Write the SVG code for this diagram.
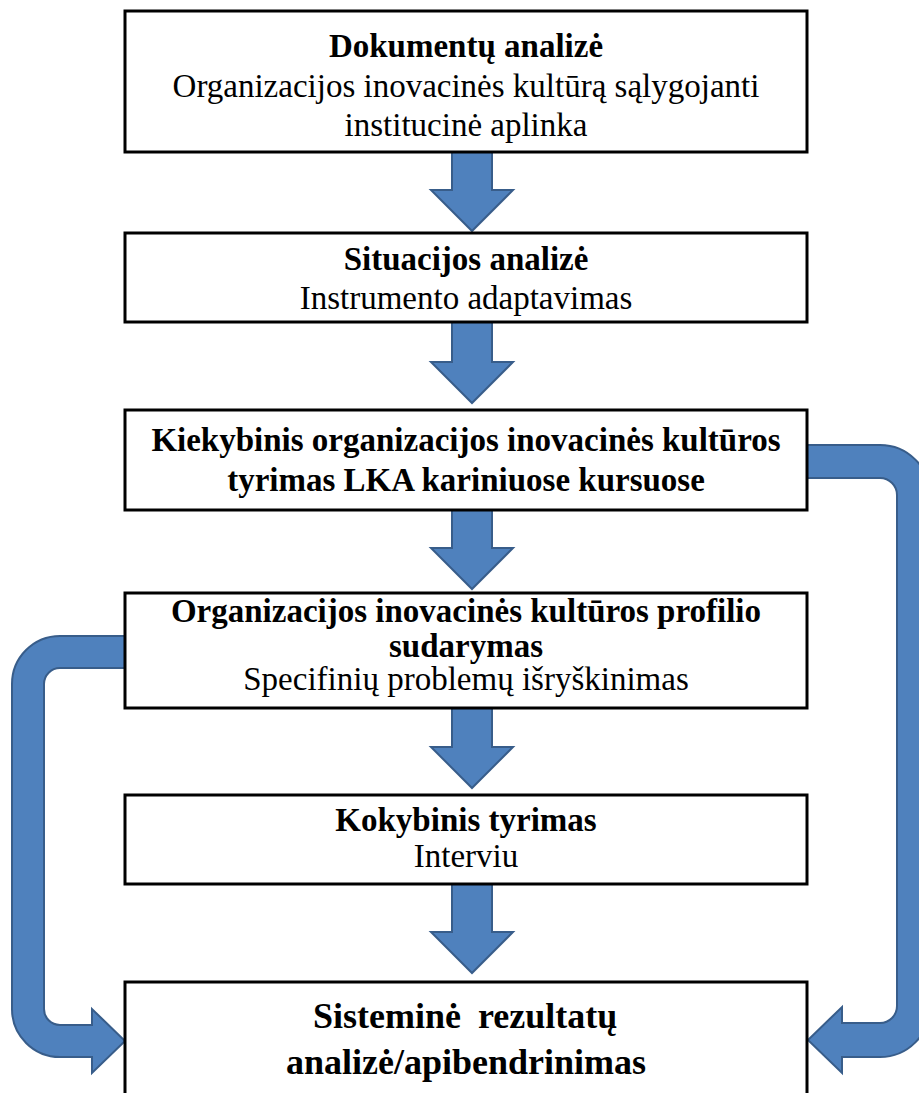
<svg xmlns="http://www.w3.org/2000/svg" width="919" height="1093" viewBox="0 0 919 1093">
<style>
.box{fill:#ffffff;stroke:#000000;stroke-width:3}
.arr{fill:#4F81BD;stroke:#385D8A;stroke-width:2;stroke-linejoin:miter}
text{font-family:"Liberation Serif","Times New Roman",serif;font-size:33px;fill:#000;text-anchor:middle}
.b{font-weight:bold}
.big{font-size:36px;font-weight:bold}
</style>
<rect width="919" height="1093" fill="#ffffff"/>
<g id="connectors">
<path class="arr" d="M452 152 L492 152 L492 190 L513 190 L472 231 L431 190 L452 190 Z"/>
<path class="arr" d="M452 322 L492 322 L492 362 L513 362 L472 403 L431 362 L452 362 Z"/>
<path class="arr" d="M452 510 L492 510 L492 548 L513 548 L472 589 L431 548 L452 548 Z"/>
<path class="arr" d="M452 708 L492 708 L492 747 L513 747 L472 788 L431 747 L452 747 Z"/>
<path class="arr" d="M452 884 L492 884 L492 932 L513 932 L472 973 L431 932 L452 932 Z"/>
<path class="arr" d="M807 445 L880 445 A50 50 0 0 1 930 495 L930 1007 A50 50 0 0 1 880 1057 L842 1057 L842 1073 L808 1040 L842 1007 L842 1023 L880 1023 A17 17 0 0 0 897 1006 L897 495 A17 17 0 0 0 880 478 L807 478 Z"/>
<path class="arr" d="M125 636 L60 636 A48 48 0 0 0 12 684 L12 1009 A48 48 0 0 0 60 1057 L92 1057 L92 1073 L125 1041 L92 1009 L92 1025 L60 1025 A16 16 0 0 1 44 1009 L44 684 A16 16 0 0 1 60 668 L125 668 Z"/>
</g>
<g id="n1">
<rect class="box" x="125" y="11" width="682" height="141"/>
<text class="b" x="466" y="57">Dokumentų analizė</text>
<text x="466" y="97">Organizacijos inovacinės kultūrą sąlygojanti</text>
<text x="466" y="136">institucinė aplinka</text>
</g>
<g id="n2">
<rect class="box" x="125" y="233" width="682" height="89"/>
<text class="b" x="466" y="270">Situacijos analizė</text>
<text x="466" y="309">Instrumento adaptavimas</text>
</g>
<g id="n3">
<rect class="box" x="125" y="410" width="682" height="100"/>
<text class="b" x="466" y="451">Kiekybinis organizacijos inovacinės kultūros</text>
<text class="b" x="466" y="491">tyrimas LKA kariniuose kursuose</text>
</g>
<g id="n4">
<rect class="box" x="125" y="593" width="682" height="115"/>
<text class="b" x="466" y="622">Organizacijos inovacinės kultūros profilio</text>
<text class="b" x="466" y="657">sudarymas</text>
<text x="466" y="690">Specifinių problemų išryškinimas</text>
</g>
<g id="n5">
<rect class="box" x="125" y="795" width="682" height="89"/>
<text class="b" x="466" y="831">Kokybinis tyrimas</text>
<text x="466" y="867">Interviu</text>
</g>
<g id="n6">
<rect class="box" x="125" y="982" width="682" height="130"/>
<text class="big" style="text-anchor:start" x="313" y="1028">Sisteminė<tspan x="478">rezultatų</tspan></text>
<text class="big" x="466" y="1074">analizė/apibendrinimas</text>
</g>
</svg>
